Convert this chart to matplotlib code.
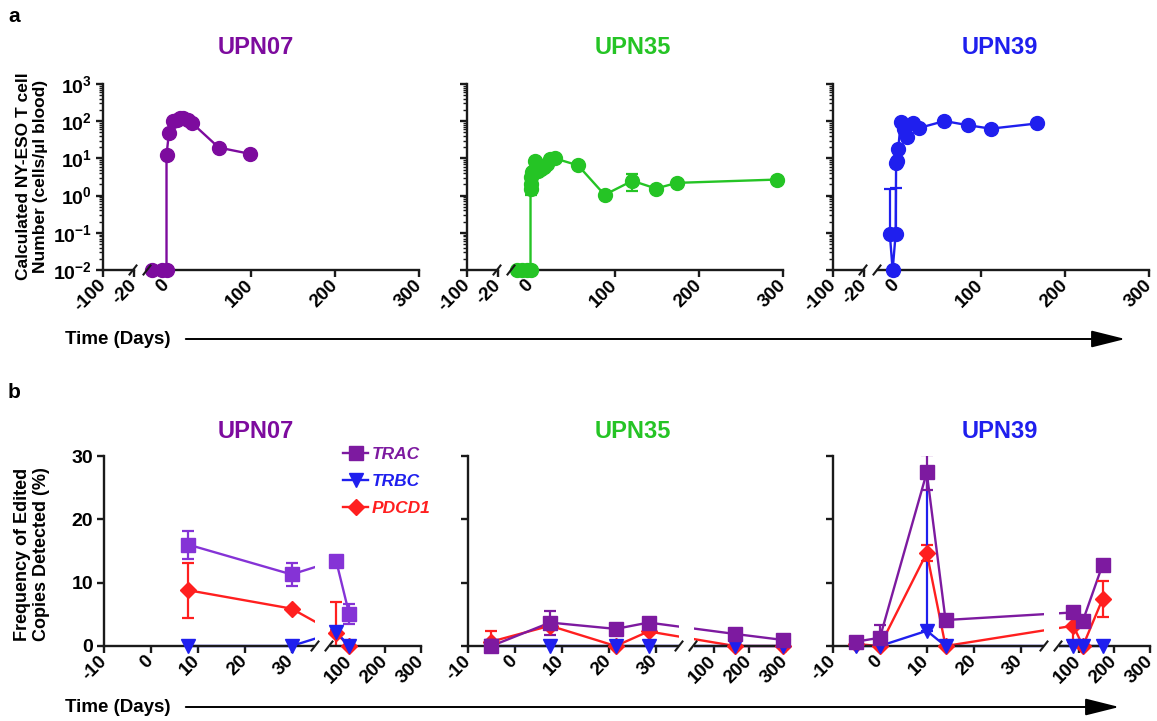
import numpy as np
import matplotlib
matplotlib.use('Agg')
import matplotlib.pyplot as plt
from matplotlib.lines import Line2D
from matplotlib.patches import Rectangle, FancyArrowPatch
from matplotlib.transforms import blended_transform_factory
from matplotlib.ticker import LogLocator, NullFormatter

plt.rcParams['font.family'] = ['Liberation Sans', 'DejaVu Sans']
plt.rcParams['font.weight'] = 'bold'
plt.rcParams['mathtext.fontset'] = 'custom'
plt.rcParams['mathtext.rm'] = 'Liberation Sans:bold'
plt.rcParams['mathtext.bf'] = 'Liberation Sans:bold'
plt.rcParams['mathtext.it'] = 'Liberation Sans:bold:italic'

# ---------------- data : panel a ----------------
patients = ['UPN07', 'UPN35', 'UPN39']
patient_colors = ['#7d0b9e', '#25c425', '#1f1fee']

a07_days = [-17.6, -5.8, 0, 0, 2.8, 7.9, 12, 16, 19.8, 26, 29.7, 62, 99.5]
a07_vals = [0.01, 0.01, 0.01, 12.3, 47, 102, 110, 120, 125, 105, 92, 19.6, 13.2]
a07_err = [0, 0, 0, 0, 0, 0, 0, 0, 0, 0, 0, 0, 0]

a35_days = [-16, -10, -4, 0, 0, 0.5, 1, 2, 5, 8.4, 12.3, 16.2, 19, 23, 29,
            56.5, 88, 121, 149, 174, 293]
a35_vals = [0.01, 0.01, 0.01, 0.01, 1.5, 2.0, 3.2, 4.2, 8.5, 4.6, 5.1, 5.9, 6.9,
            9.5, 10, 6.5, 1.05, 2.5, 1.55, 2.2, 2.7]
a35_err = [0, 0, 0, 0, 0.45, 0, 0, 0, 0, 0, 0, 0, 0, 0, 0, 0, 0.15, 1.2, 0, 0, 0.4]

a39_days = [-8, -4.6, -1, -0.5, 0.5, 2, 5, 9, 13, 20, 27, 57, 85, 112, 167]
a39_vals = [0.095, 0.01, 0.095, 7.4, 8.5, 17.5, 96, 63, 38, 87, 66, 101, 78, 63, 87]
a39_err = [1.45, 0, 1.5, 0, 0, 0, 0, 0, 0, 0, 0, 0, 0, 0, 0]

a_days = [a07_days, a35_days, a39_days]
a_vals = [a07_vals, a35_vals, a39_vals]
a_errs = [a07_err, a35_err, a39_err]

a_ytick_vals = [1e-2, 1e-1, 1e0, 1e1, 1e2, 1e3]
a_ytick_labels = [r'$\mathbf{10^{-2}}$', r'$\mathbf{10^{-1}}$', r'$\mathbf{10^{0}}$',
                  r'$\mathbf{10^{1}}$', r'$\mathbf{10^{2}}$', r'$\mathbf{10^{3}}$']
a_xticks_left = [-100, -20]
a_xticks_right = [0, 100, 200, 300]

# ---------------- data : panel b ----------------
genes = ['TRAC', 'TRBC', 'PDCD1']
gene_markers = ['s', 'v', 'D']

b07_days = [8, 30, 62, 99]
b07_trac = [16.0, 11.3, 13.5, 5.0]
b07_trac_lo = [2.2, 1.8, 0, 1.6]
b07_trac_hi = [2.2, 1.8, 0, 1.6]
b07_trbc = [0, 0, 2.2, 0]
b07_trbc_lo = [0, 0, 0, 0]
b07_trbc_hi = [0, 0, 0, 0]
b07_pdcd1 = [8.8, 5.9, 2.0, 0]
b07_pdcd1_lo = [4.3, 0, 2.0, 0]
b07_pdcd1_hi = [4.3, 0, 4.9, 0]

b35_days = [-5, 7.5, 21.5, 28.5, 160, 295]
b35_trac = [0, 3.7, 2.7, 3.7, 1.9, 0.95]
b35_trac_lo = [0, 1.9, 0, 0, 0, 0]
b35_trac_hi = [0, 1.9, 0, 0, 0, 0]
b35_trbc = [0, 0, 0, 0, 0, 0]
b35_trbc_lo = [0, 0, 0, 0, 0, 0]
b35_trbc_hi = [0, 0, 0, 0, 0, 0]
b35_pdcd1 = [0.7, 3.2, 0, 2.3, 0, 0]
b35_pdcd1_lo = [0, 0, 0, 0, 0, 0]
b35_pdcd1_hi = [1.6, 0, 0, 0, 0, 0]

b39_days = [-5, 0, 10, 14, 85, 112, 167]
b39_trac = [0.7, 1.3, 27.4, 4.1, 5.3, 4.0, 12.8]
b39_trac_lo = [0, 0, 2.8, 0, 0, 0, 0.4]
b39_trac_hi = [0, 2.0, 2.8, 0, 0, 0, 0.4]
b39_trbc = [0, 0, 2.4, 0, 0, 0, 0]
b39_trbc_lo = [0, 0, 0, 0, 0, 0, 0]
b39_trbc_hi = [0, 0, 25.0, 0, 0, 0, 0]
b39_pdcd1 = [0.3, 0, 14.7, 0, 3.2, 0, 7.4]
b39_pdcd1_lo = [0, 0, 1.3, 0, 2.5, 0, 2.8]
b39_pdcd1_hi = [0, 0, 1.3, 0, 0, 0, 2.8]

b_xticks = [-10, 0, 10, 20, 30, 100, 200, 300]
b_xticklabels = ['-10', '0', '10', '20', '30', '100', '200', '300']
b_yticks = [0, 10, 20, 30]

b_data = [
    (b07_days, [(b07_trac, b07_trac_lo, b07_trac_hi), (b07_trbc, b07_trbc_lo, b07_trbc_hi),
                (b07_pdcd1, b07_pdcd1_lo, b07_pdcd1_hi)]),
    (b35_days, [(b35_trac, b35_trac_lo, b35_trac_hi), (b35_trbc, b35_trbc_lo, b35_trbc_hi),
                (b35_pdcd1, b35_pdcd1_lo, b35_pdcd1_hi)]),
    (b39_days, [(b39_trac, b39_trac_lo, b39_trac_hi), (b39_trbc, b39_trbc_lo, b39_trbc_hi),
                (b39_pdcd1, b39_pdcd1_lo, b39_pdcd1_hi)]),
]
gene_colors_by_panel = [
    ['#8533d6', '#1f1fee', '#ff1f1f'],
    ['#7d1aa0', '#1f1fee', '#ff1f1f'],
    ['#7d1aa0', '#1f1fee', '#ff1f1f'],
]

# ---------------- layout helpers ----------------
W, H = 1157, 721
fig = plt.figure(figsize=(W / 100, H / 100), dpi=100)
SP = '#1a1a1a'
XT_SIZE = 13.5


def rect(l, t, r, b):
    return [l / W, 1 - b / H, (r - l) / W, (b - t) / H]


def fx(x):
    return x / W


def fy(y):
    return 1 - y / H


def style(ax):
    for s in ['top', 'right']:
        ax.spines[s].set_visible(False)
    for s in ['left', 'bottom']:
        ax.spines[s].set_linewidth(1.7)
        ax.spines[s].set_color(SP)
    ax.tick_params(which='major', direction='out', length=5, width=1.7, color=SP,
                   labelsize=XT_SIZE, pad=4)
    ax.tick_params(which='minor', direction='out', length=3, width=1.0, color=SP)
    ax.set_facecolor('none')


def slash(xp, yp):
    fig.add_artist(Line2D([fx(xp - 3.5), fx(xp + 3.5)], [fy(yp + 4.5), fy(yp - 4.5)],
                          transform=fig.transFigure, color=SP, lw=1.5))


def rot_labels(ax):
    for lab in ax.get_xticklabels():
        lab.set_rotation(45)
        lab.set_ha('right')
        lab.set_va('center')
        lab.set_rotation_mode('anchor')
        lab.set_fontweight('bold')
        lab.set_fontsize(XT_SIZE)


# ---------------- panel a ----------------
a_left = [103, 467, 833]
a_top, a_bot = 84, 270
title_cx = [256, 633, 1000]

for i in range(3):
    x0 = a_left[i]
    col = patient_colors[i]
    axL = fig.add_axes(rect(x0, a_top, x0 + 31, a_bot))
    axR = fig.add_axes(rect(x0 + 45, a_top, x0 + 316, a_bot))
    for ax in (axL, axR):
        ax.set_yscale('log')
        ax.set_ylim(0.01, 1000)
        style(ax)
    axL.set_xlim(-100, -20)
    axL.set_xticks(a_xticks_left)
    axL.set_xticklabels([str(v) for v in a_xticks_left])
    axR.set_xlim(-22, 300)
    axR.set_xticks(a_xticks_right)
    axR.set_xticklabels([str(v) for v in a_xticks_right])
    axL.yaxis.set_minor_locator(LogLocator(base=10, subs=np.arange(2, 10), numticks=30))
    axL.yaxis.set_minor_formatter(NullFormatter())
    axL.set_yticks(a_ytick_vals)
    if i == 0:
        axL.set_yticklabels(a_ytick_labels)
        axL.tick_params(axis='y', labelsize=14, pad=3)
    else:
        axL.set_yticklabels([])
    axR.spines['left'].set_visible(False)
    axR.tick_params(axis='y', which='both', left=False, labelleft=False)
    rot_labels(axL)
    rot_labels(axR)

    d = np.array(a_days[i])
    v = np.array(a_vals[i])
    e = np.array(a_errs[i])
    has = e > 0
    if has.any():
        lo = np.where(v[has] - e[has] < 0.01, 0, e[has])
        axR.errorbar(d[has], v[has], yerr=[lo, e[has]], fmt='none', ecolor=col,
                     elinewidth=1.6, capsize=4, capthick=1.6, zorder=2, clip_on=False)
    axR.plot(d, v, '-', color=col, lw=1.7, zorder=2.5, clip_on=False)
    axR.plot(d, v, 'o', color=col, ms=10, mec=col, zorder=3, clip_on=False)

    slash(x0 + 30, a_bot)
    slash(x0 + 44, a_bot)
    fig.text(fx(title_cx[i]), fy(48), patients[i], ha='center', va='center',
             fontsize=17, fontweight='bold', color=col)

fig.text(fx(32), fy(176), 'Calculated NY-ESO T cell\nNumber (cells/\u00b5l blood)',
         rotation=90, ha='center', va='center', fontsize=12.5, fontweight='bold',
         linespacing=1.15)

# ---------------- panel b ----------------
knots_d = np.array([-1000.0, -10.0, 35.0, 45.0, 300.0, 5000.0])
knots_p = np.array([-990 * 4.69, 0.0, 211.0, 226.0, 317.0, 317 + 4700 * 0.357])


def fwd(x):
    return np.interp(np.asarray(x, dtype=float), knots_d, knots_p)


def inv(p):
    return np.interp(np.asarray(p, dtype=float), knots_p, knots_d)


b_left = [104, 468, 833]
b_top, b_bot = 456, 646
axes_b = []
for i in range(3):
    x0 = b_left[i]
    ax = fig.add_axes(rect(x0, b_top, x0 + 317, b_bot))
    axes_b.append(ax)
    ax.set_xscale('function', functions=(fwd, inv))
    ax.set_xlim(-10, 300)
    ax.set_ylim(0, 30)
    style(ax)
    ax.set_xticks(b_xticks)
    ax.set_xticklabels(b_xticklabels)
    ax.set_yticks(b_yticks)
    if i == 0:
        ax.set_yticklabels([str(v) for v in b_yticks])
        ax.tick_params(axis='y', labelsize=14, pad=3)
    else:
        ax.set_yticklabels([])
    rot_labels(ax)
    ax.minorticks_off()

    days, series = b_data[i]
    cols = gene_colors_by_panel[i]
    order = [2, 1, 0]
    for g in order:
        vals, lo, hi = series[g]
        c = cols[g]
        d = np.array(days, dtype=float)
        v = np.array(vals, dtype=float)
        lo = np.array(lo, dtype=float)
        hi = np.array(hi, dtype=float)
        m = (lo > 0) | (hi > 0)
        if m.any():
            ax.errorbar(d[m], v[m], yerr=[lo[m], hi[m]], fmt='none', ecolor=c,
                        elinewidth=1.6, capsize=4, capthick=1.6, zorder=2.2, clip_on=True)
        ax.plot(d, v, '-', color=c, lw=1.7, zorder=2, clip_on=False)
    for g in order:
        vals = series[g][0]
        c = cols[g]
        ms = {'s': 10, 'v': 9.5, 'D': 8}[gene_markers[g]]
        ax.plot(days, vals, gene_markers[g], color=c, mec=c, ms=ms, zorder=3, clip_on=False)

    # axis break: white gap + slashes
    tr = blended_transform_factory(ax.transData, ax.transAxes)
    ax.add_patch(Rectangle((35, -0.035), 10, 1.06, transform=tr, facecolor='white',
                           edgecolor='none', zorder=2.7, clip_on=False))
    slash(x0 + 211, b_bot)
    slash(x0 + 225, b_bot)
    fig.text(fx(title_cx[i]), fy(432), patients[i], ha='center', va='center',
             fontsize=17, fontweight='bold', color=patient_colors[i])

# legend in first panel b
handles = [Line2D([], [], color=gene_colors_by_panel[1][k], marker=gene_markers[k],
                  ms={'s': 9.5, 'v': 9.5, 'D': 8.5}[gene_markers[k]], lw=1.7)
           for k in range(3)]
leg = axes_b[0].legend(handles, genes, loc='upper left', bbox_to_anchor=(fx(343), fy(447)),
                       bbox_transform=fig.transFigure, frameon=False, handlelength=1.45,
                       handletextpad=0.2, labelspacing=0.68, borderpad=0, borderaxespad=0,
                       prop={'size': 12.5, 'weight': 'bold', 'style': 'italic'},
                       labelcolor='linecolor')

fig.text(fx(32), fy(554), 'Frequency of Edited\nCopies Detected (%)', rotation=90,
         ha='center', va='center', fontsize=13, fontweight='bold', linespacing=1.15)

# ---------------- time labels and arrows ----------------
for yy, xend in [(339, 1128), (707, 1122)]:
    fig.text(fx(65), fy(yy), 'Time (Days)', ha='left', va='center', fontsize=13.5,
             fontweight='bold')
    arr = FancyArrowPatch((fx(183), fy(yy)), (fx(xend), fy(yy)), transform=fig.transFigure,
                          arrowstyle='-|>,head_length=1.4,head_width=0.35', mutation_scale=15,
                          color='black', lw=1.4)
    fig.add_artist(arr)

fig.text(fx(8), fy(17), 'a', ha='left', va='center', fontsize=15, fontweight='bold')
fig.text(fx(8), fy(392), 'b', ha='left', va='center', fontsize=15, fontweight='bold')

fig.savefig('out.png', dpi=100)
